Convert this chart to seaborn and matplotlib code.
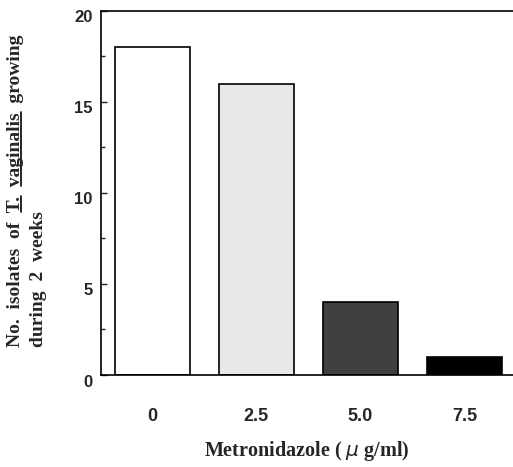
import matplotlib
matplotlib.use("Agg")
import matplotlib.pyplot as plt
import matplotlib.transforms as mtransforms
import seaborn as sns
import pandas as pd
from matplotlib.ticker import MultipleLocator
from matplotlib.lines import Line2D

concentrations = ["0", "2.5", "5.0", "7.5"]
isolates = [18, 16, 4, 1]
bar_colors = ["#ffffff", "#e8e8e8", "#404040", "#000000"]

sns.set_theme(style="ticks")
plt.rcParams['font.family'] = ['Liberation Sans', 'DejaVu Sans']

df = pd.DataFrame({"conc": concentrations, "n": isolates})

fig = plt.figure(figsize=(5.13, 4.67), dpi=100)
ax = fig.add_axes([0.197, 0.197, 0.803, 0.780])

sns.barplot(data=df, x="conc", y="n", hue="conc", palette=bar_colors,
            width=0.72, edgecolor="black", linewidth=1.2, legend=False,
            saturation=1, ax=ax)

ax.set_xlim(-0.49, 3.466)
ax.set_ylim(0, 20)
ax.yaxis.set_major_locator(MultipleLocator(5))
ax.yaxis.set_minor_locator(MultipleLocator(2.5))
ax.tick_params(axis="y", which="major", direction="in", length=4, width=1, labelsize=12, pad=6)
ax.tick_params(axis="y", which="minor", direction="in", length=3, width=1)
ax.tick_params(axis="x", length=0, pad=24, labelsize=13)
offset = mtransforms.ScaledTranslation(0, -4 / 72, fig.dpi_scale_trans)
for lab in ax.get_yticklabels():
    lab.set_fontweight("bold")
    lab.set_transform(lab.get_transform() + offset)
for lab in ax.get_xticklabels():
    lab.set_fontweight("bold")

for s in ["left", "bottom", "top"]:
    ax.spines[s].set_visible(True)
    ax.spines[s].set_color("black")
    ax.spines[s].set_linewidth(1.2)
ax.spines["right"].set_visible(False)

ax.set_xlabel("Metronidazole ( $\\mu$ g/ml)", family="Liberation Serif",
              fontweight="bold", fontsize=14.5, labelpad=10)
ax.set_ylabel("")

serif = dict(family="Liberation Serif", fontweight="bold", fontsize=14)
line1 = "No.  isolates  of  T.  vaginalis  growing"
x1, ybot = 15.5 / 513, 1 - 347 / 467
fig.text(x1, ybot, line1, rotation=90, ha="center", va="bottom", **serif)
fig.text(38.5 / 513, ybot, "during  2  weeks", rotation=90, ha="center", va="bottom", **serif)

# underline "T." and "vaginalis"
fig.canvas.draw()
renderer = fig.canvas.get_renderer()
W, H = fig.bbox.width, fig.bbox.height

def width(s):
    t = fig.text(0, 0, s, **serif)
    w = t.get_window_extent(renderer).width
    t.remove()
    return w

tmp = fig.text(0, 0, line1, **serif)
bb = tmp.get_window_extent(renderer)
tmp.remove()
hgt = bb.height
start = ybot * H
xline = (x1 * W + hgt / 2 - 3) / W
for prefix, word in [("No.  isolates  of  ", "T."), ("No.  isolates  of  T.  ", "vaginalis")]:
    p = width(prefix + word) - width(word)
    wl = width(word)
    y0 = (start + p) / H
    y1 = (start + p + wl) / H
    fig.add_artist(Line2D([xline, xline], [y0, y1], transform=fig.transFigure,
                          color="black", linewidth=1.2))

fig.savefig("out.png", dpi=100)
